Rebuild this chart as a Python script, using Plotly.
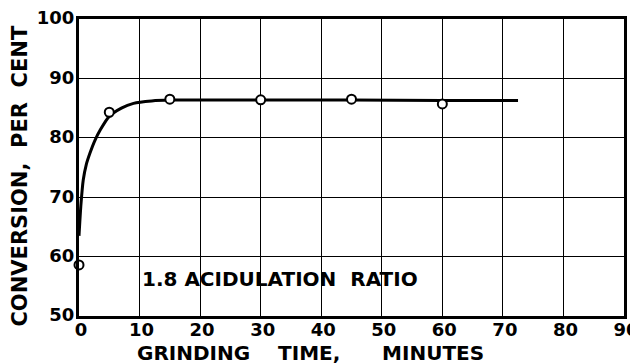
import plotly.graph_objects as go

# Measured data points (open circles)
time_pts = [0, 5, 15, 30, 45, 60]
conv_pts = [58.6, 84.3, 86.5, 86.4, 86.5, 85.7]

# Hand-drawn smooth curve
curve_x = [0, 0.3, 0.7, 1.2, 1.8, 2.6, 3.5, 5, 7, 9, 12, 15, 20, 30, 45, 60, 72.5]
curve_y = [63.5, 68.5, 72.9, 75.5, 77.4, 79.5, 81.3, 83.6, 85.0, 85.8, 86.2, 86.35, 86.35, 86.35, 86.35, 86.3, 86.3]

x_ticks = [0, 10, 20, 30, 40, 50, 60, 70, 80, 90]
y_ticks = [50, 60, 70, 80, 90, 100]

FONT = "DejaVu Sans"

fig = go.Figure()
fig.add_trace(go.Scatter(
    x=curve_x, y=curve_y, mode="lines",
    line=dict(color="black", width=3, shape="spline", smoothing=0.6),
    hoverinfo="skip", showlegend=False,
))
fig.add_trace(go.Scatter(
    x=time_pts, y=conv_pts, mode="markers",
    marker=dict(symbol="circle", size=9, color="white",
                line=dict(color="black", width=2)),
    cliponaxis=False, showlegend=False,
))

fig.add_annotation(
    x=10, y=56.2, xref="x", yref="y", xanchor="left", yanchor="middle",
    text="1.8 ACIDULATION  RATIO", showarrow=False,
    font=dict(family=FONT, size=20, color="black", weight="bold"),
)
# axis titles
fig.add_annotation(
    x=0.424, y=-0.123, xref="paper", yref="paper", xanchor="center", yanchor="middle",
    text="GRINDING    TIME,      MINUTES", showarrow=False,
    font=dict(family=FONT, size=20, color="black", weight="bold"),
)
fig.add_annotation(
    x=-0.108, y=0.47, xref="paper", yref="paper", xanchor="center", yanchor="middle",
    text="CONVERSION,  PER  CENT", showarrow=False, textangle=-90,
    font=dict(family=FONT, size=21, color="black", weight="bold"),
)

fig.update_xaxes(
    range=[0, 90], tickvals=x_ticks, ticktext=[str(v) for v in x_ticks],
    showgrid=True, gridcolor="black", gridwidth=1.2,
    showline=True, linecolor="black", linewidth=3, mirror=True,
    zeroline=False, ticks="", ticklabelstandoff=-5, automargin=False,
    ticklabeloverflow="allow", ticklabelshift=2,
    tickfont=dict(family=FONT, size=18, color="black", weight="bold"),
)
fig.update_yaxes(
    range=[50, 100], tickvals=y_ticks, ticktext=[str(v) for v in y_ticks],
    showgrid=True, gridcolor="black", gridwidth=1.2,
    showline=True, linecolor="black", linewidth=3, mirror=True,
    zeroline=False, ticks="", ticklabelstandoff=-2, ticklabelshift=-1,
    automargin=False, ticklabeloverflow="allow",
    tickfont=dict(family=FONT, size=18, color="black", weight="bold"),
)

# page body adds an 8px offset, so the figure is sized/margined to compensate
fig.update_layout(
    width=630, height=356,
    margin=dict(l=71, r=14, t=11, b=48),
    paper_bgcolor="white", plot_bgcolor="white",
)

fig.write_html("out.html")
